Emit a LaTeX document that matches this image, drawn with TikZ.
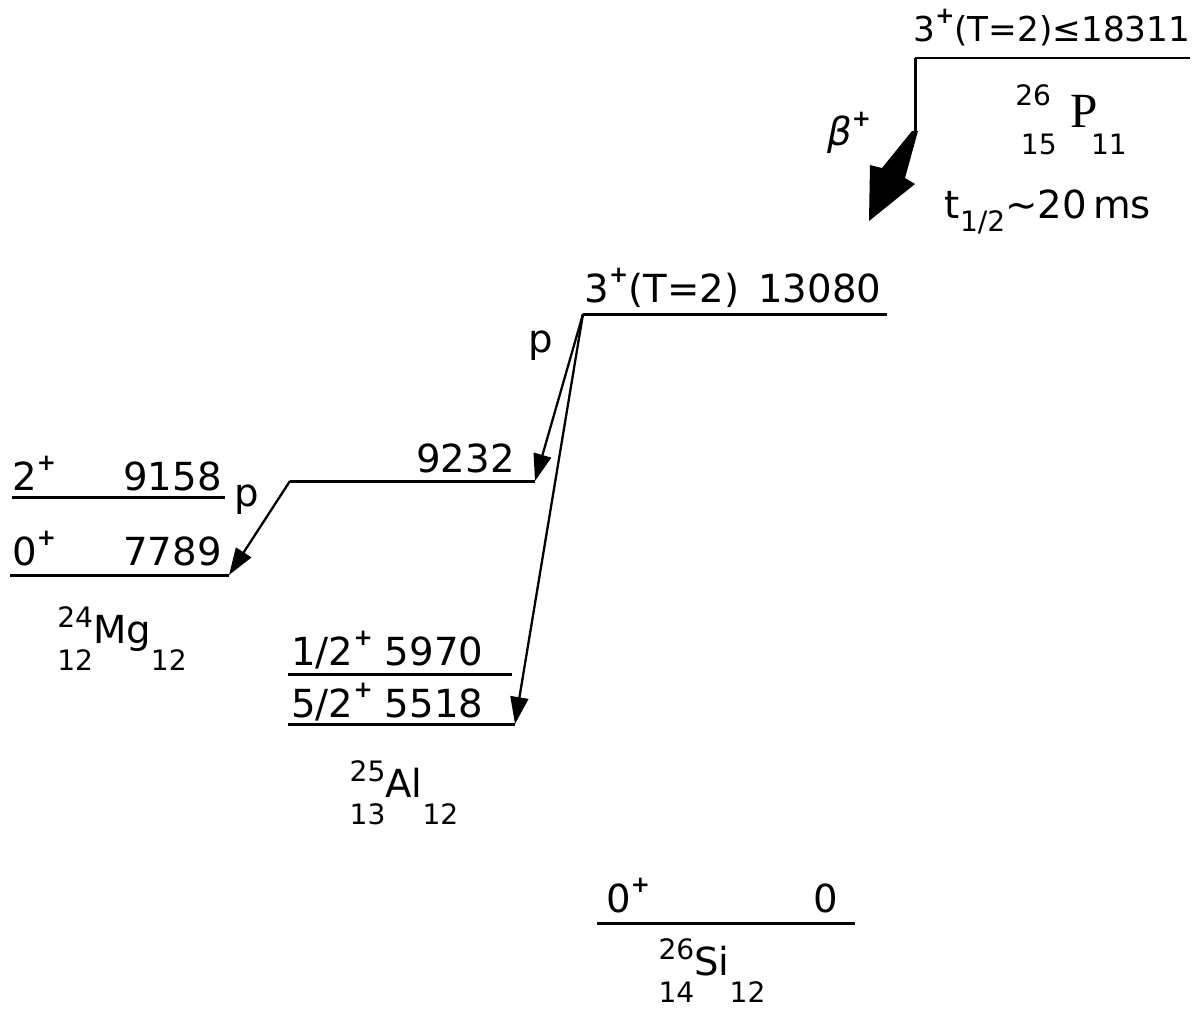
\documentclass[tikz,border=0pt]{standalone}
\usepackage{fontspec}
\setmainfont{DejaVu Sans}
\newfontfamily\serifP{Liberation Serif}
\usetikzlibrary{arrows.meta}
% 字号与上下标
\newcommand{\lvlfont}{\fontsize{22}{26}\selectfont}
\newcommand{\subsz}{\fontsize{16}{18}\selectfont}
\newcommand{\plus}{\raisebox{0.5em}{\fontsize{13}{14}\selectfont\bfseries +}}
% 核素符号：质量数, 质子数, 元素, 中子数
\newcommand{\nucl}[4]{\rlap{\raisebox{0.4em}{\subsz #1}}\raisebox{-0.7em}{\subsz #2}#3\raisebox{-0.7em}{\subsz #4}}

\begin{document}
\begin{tikzpicture}[x=0.02cm, y=-0.02cm, >={Triangle[length=0.54cm, width=0.36cm]},
  level/.style={line width=1.7pt},
  decay/.style={->, line width=1.3pt},
  every node/.style={inner sep=0pt, font=\lvlfont}]
\useasboundingbox (0,0) rectangle (1204,1025);

% ==================== 母核 26P ====================
% 1. 能级与标注
\coordinate (L18311w) at (915,58);
\coordinate (L18311e) at (1190,58);
\draw[level] (L18311w) -- (L18311e);
\node (lbl18311) [anchor=base, font=\fontsize{19.5}{23}\selectfont] at (1052,41) {3\plus(T=2)≤18311};
\node (nucP) [anchor=base west] at (1015,127) {\rlap{\raisebox{0.55em}{\subsz 26}}\raisebox{-0.7em}{\subsz\hspace{0.2em}15}\hspace{0.36em}{\fontsize{28}{30}\selectfont\serifP P}\hspace{-0.18em}\raisebox{-0.7em}{\subsz 11}};
\node (thalf) [anchor=base] at (1048,218) {t\raisebox{-0.35em}{\subsz 1/2}∼20\,ms};

% 2. β+ 衰变粗箭头
\coordinate (betaTop) at (915,132);
\draw[level] (L18311w) -- (betaTop);
\fill (912,131) -- (882,168) -- (870,165) -- (869,221) -- (915,184) -- (905,178) -- (918,131) -- cycle;
\node (beta) at (849,133) {\itshape β\plus};

% ==================== 26Si 中间态 ====================
% 1. T=2 同位旋相似态
\coordinate (L13080w) at (583,314);
\coordinate (L13080e) at (887,314);
\draw[level] (L13080w) -- (L13080e);
\node (lbl13080) [anchor=base] at (733,302) {3\plus(T=2)\enspace13080};
\node (p1) at (541,346) {p};

% 2. 9232 中间能级
\coordinate (L9232w) at (290,481);
\coordinate (L9232e) at (535,481);
\draw[level] (L9232w) -- (L9232e);
\node (lbl9232) [anchor=base east] at (515,472) {9232};

% 3. 基态
\draw[level] (597,923) -- (855,923);
\node (spinSi) [anchor=base west] at (606,912) {0\plus};
\node (lbl0) [anchor=base east] at (838,912) {0};
\node (nucSi) [anchor=base] at (712,975) {\nucl{26}{14}{Si}{12}};

% ==================== 24Mg 末态 ====================
\draw[level] (12,497) -- (225,497);
\node (spin9158) [anchor=base west] at (12,490) {2\plus};
\node (lbl9158) [anchor=base east] at (222,490) {9158};
\coordinate (L7789w) at (10,575);
\coordinate (L7789e) at (229,575);
\draw[level] (L7789w) -- (L7789e);
\node (spin7789) [anchor=base west] at (12,565) {0\plus};
\node (lbl7789) [anchor=base east] at (222,565) {7789};
\node (pMg) at (247,500) {p};
\node (nucMg) [anchor=base] at (122,643) {\nucl{24}{12}{Mg}{12}};

% ==================== 25Al 末态 ====================
\draw[level] (288,674) -- (512,674);
\node (lbl5970) [anchor=base west] at (291,665) {1/2\plus\ 5970};
\coordinate (L5518w) at (288,724);
\coordinate (L5518e) at (515,724);
\draw[level] (L5518w) -- (L5518e);
\node (lbl5518) [anchor=base west] at (291,717) {5/2\plus\ 5518};
\node (nucAl) [anchor=base] at (404,797) {\nucl{25}{13}{Al}{12}};

% ==================== 质子发射 ====================
\draw[decay] (L13080w) -- (L9232e);
\draw[decay] (L13080w) -- (L5518e);
\draw[decay] (L9232w) -- (L7789e);
\end{tikzpicture}
\end{document}
